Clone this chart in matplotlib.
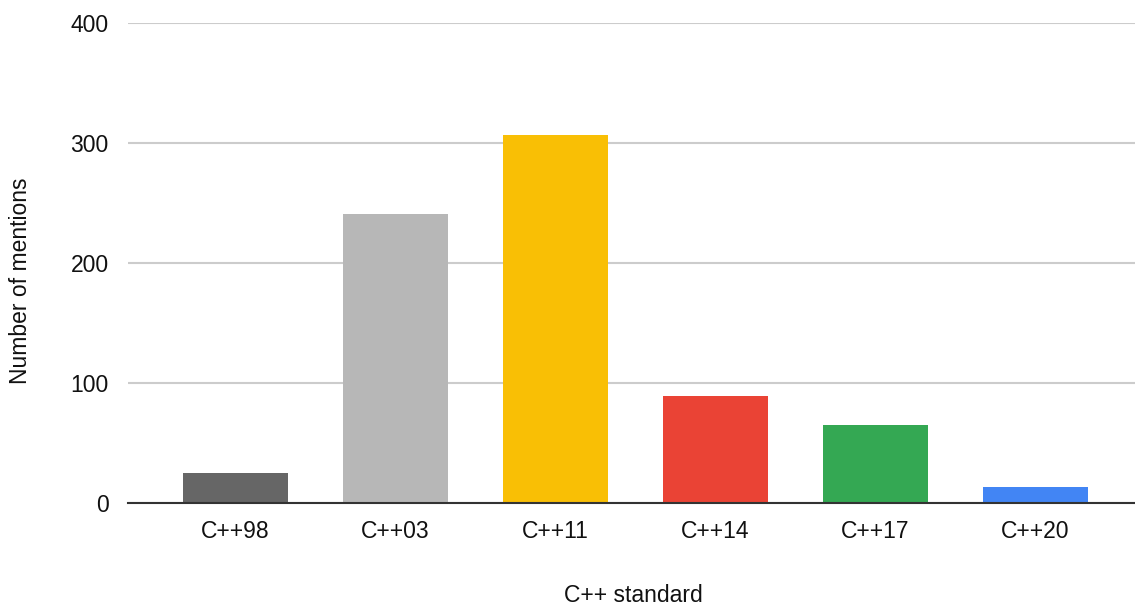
import matplotlib
matplotlib.use("Agg")
import matplotlib.pyplot as plt

plt.rcParams['font.family'] = ['Liberation Sans', 'DejaVu Sans']

standards = ["C++98", "C++03", "C++11", "C++14", "C++17", "C++20"]
mentions = [25, 241, 307, 89, 65, 13]
colors = ["#666666", "#b7b7b7", "#f9bf05", "#ea4335", "#34a853", "#4285f4"]
y_ticks = [0, 100, 200, 300, 400]

W, H = 1135, 608
fig = plt.figure(figsize=(W / 100, H / 100), dpi=100)
left, right, top, bottom = 128, 1135, 23, 503
ax = fig.add_axes([left / W, 1 - bottom / H, (right - left) / W, (bottom - top) / H])

x = list(range(len(standards)))
ax.bar(x, mentions, width=0.656, color=colors, zorder=3)

# x range chosen so category spacing is 160 px with first center at 235 px
px_per_cat = 160
x0 = 235.5
ax.set_xlim((left - x0) / px_per_cat, (right - x0) / px_per_cat)
ax.set_ylim(0, 400)

text_color = '#111111'
ax.set_yticks(y_ticks)
ax.set_xticks(x)
ax.set_xticklabels(standards)
ax.tick_params(axis='both', length=0, labelsize=16.5, colors=text_color)
ax.tick_params(axis='y', pad=14)
ax.tick_params(axis='x', pad=12)

ax.grid(axis='y', color='#cccccc', linewidth=1.5, zorder=0)
for side in ['top', 'right', 'left']:
    ax.spines[side].set_visible(False)
ax.spines['bottom'].set_color('#333333')
ax.spines['bottom'].set_linewidth(1.5)
ax.spines['bottom'].set_zorder(4)

fig.text(633 / W, 1 - 595 / H, "C++ standard", ha='center', va='center',
         fontsize=16.5, color=text_color)
fig.text(21 / W, 1 - 281 / H, "Number of mentions", ha='center', va='center',
         rotation=90, fontsize=16.5, color=text_color)

fig.savefig("out.png", dpi=100, facecolor='white')
